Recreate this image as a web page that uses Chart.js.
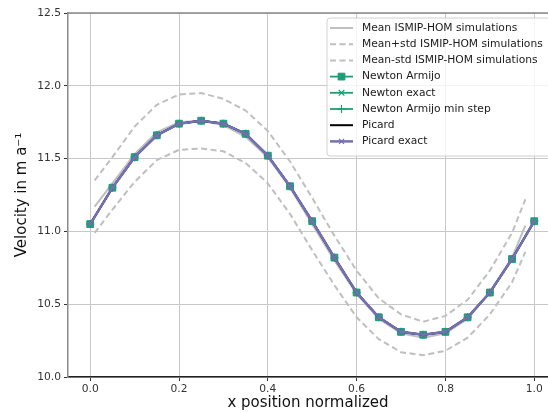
<!DOCTYPE html>
<html>
<head>
<meta charset="utf-8">
<script src="https://cdn.jsdelivr.net/npm/chart.js@4.4.1/dist/chart.umd.min.js"></script>
<style>
html,body{margin:0;padding:0;background:#fff;overflow:hidden;}
#wrap{width:548px;height:412px;overflow:hidden;}
canvas{display:block;}
</style>
</head>
<body>
<div id="wrap"><canvas id="c" width="548" height="412"></canvas></div>
<script>
// ---- data ----
const xNewton = [0.0,0.05,0.1,0.15,0.2,0.25,0.3,0.35,0.4,0.45,0.5,0.55,0.6,0.65,0.7,0.75,0.8,0.85,0.9,0.95,1.0];
const newtonArmijo = [11.05,11.30,11.51,11.66,11.74,11.76,11.74,11.67,11.52,11.31,11.07,10.82,10.58,10.41,10.31,10.29,10.31,10.41,10.58,10.81,11.07];
const newtonExact = [11.05,11.30,11.51,11.66,11.74,11.76,11.74,11.67,11.52,11.31,11.07,10.82,10.58,10.41,10.31,10.29,10.31,10.41,10.58,10.81,11.07];
const newtonMinStep = [11.05,11.30,11.51,11.66,11.74,11.76,11.74,11.67,11.52,11.31,11.07,10.82,10.58,10.41,10.31,10.29,10.31,10.41,10.58,10.81,11.07];
const picard = [11.05,11.30,11.51,11.66,11.74,11.76,11.74,11.67,11.52,11.31,11.07,10.82,10.58,10.41,10.31,10.29,10.31,10.41,10.58,10.81,11.07];
const picardExact = [11.05,11.30,11.51,11.66,11.74,11.76,11.74,11.67,11.52,11.31,11.07,10.82,10.58,10.41,10.31,10.29,10.31,10.41,10.58,10.81,11.07];

const xIsmip = [0.01,0.05,0.1,0.15,0.2,0.25,0.3,0.35,0.4,0.45,0.5,0.55,0.6,0.65,0.7,0.75,0.8,0.85,0.9,0.95,0.98];
const ismipMean = [11.17,11.33,11.53,11.68,11.75,11.76,11.73,11.65,11.51,11.30,11.05,10.80,10.57,10.40,10.30,10.27,10.30,10.40,10.58,10.82,11.04];
const ismipPlus = [11.35,11.51,11.72,11.87,11.94,11.95,11.91,11.83,11.69,11.48,11.23,10.97,10.73,10.54,10.43,10.38,10.42,10.53,10.73,10.99,11.22];
const ismipMinus = [10.99,11.15,11.34,11.49,11.56,11.57,11.55,11.47,11.33,11.12,10.87,10.63,10.41,10.26,10.17,10.15,10.18,10.27,10.43,10.65,10.86];

const xTicks = [0.0,0.2,0.4,0.6,0.8,1.0];
const yTicks = [10.0,10.5,11.0,11.5,12.0,12.5];

const seriesLabels = ['Mean ISMIP-HOM simulations','Mean+std ISMIP-HOM simulations','Mean-std ISMIP-HOM simulations','Newton Armijo','Newton exact','Newton Armijo min step','Picard','Picard exact'];

// ---- build ----
const pts = (xs, ys) => xs.map((x,i)=>({x:x,y:ys[i]}));
const GRAY = '#bfbfbf';
const TEAL = '#1b9e77';
const PURPLE = '#7570b3';

const datasets = [
  {label:seriesLabels[0], data:pts(xIsmip,ismipMean), borderColor:GRAY, borderWidth:2, pointRadius:0, order:7},
  {label:seriesLabels[1], data:pts(xIsmip,ismipPlus), borderColor:GRAY, borderWidth:2, borderDash:[6,3.5], pointRadius:0, order:6},
  {label:seriesLabels[2], data:pts(xIsmip,ismipMinus), borderColor:GRAY, borderWidth:2, borderDash:[6,3.5], pointRadius:0, order:5},
  {label:seriesLabels[3], data:pts(xNewton,newtonArmijo), borderColor:TEAL, backgroundColor:TEAL, borderWidth:1.8, pointStyle:'rect', pointRadius:4.8, pointBorderWidth:1, order:4},
  {label:seriesLabels[4], data:pts(xNewton,newtonExact), borderColor:TEAL, backgroundColor:TEAL, borderWidth:1.8, pointStyle:'crossRot', pointRadius:4, pointBorderWidth:1.2, order:3},
  {label:seriesLabels[5], data:pts(xNewton,newtonMinStep), borderColor:TEAL, backgroundColor:TEAL, borderWidth:1.8, pointStyle:'cross', pointRadius:4, pointBorderWidth:1.2, order:2},
  {label:seriesLabels[6], data:pts(xNewton,picard), borderColor:'#000000', borderWidth:2, pointRadius:0, order:1},
  {label:seriesLabels[7], data:pts(xNewton,picardExact), borderColor:PURPLE, backgroundColor:PURPLE, borderWidth:2.5, pointStyle:'crossRot', pointRadius:3.5, pointBorderWidth:1.2, order:0}
];
datasets.forEach(d=>{d.fill=false; d.tension=0; d.showLine=true; d.pointHoverRadius=d.pointRadius;});

const FONT = 'DejaVu Sans';

const legendPlugin = {
  id:'insideLegend',
  afterDraw(chart){
    const ctx = chart.ctx;
    const ca = chart.chartArea;
    ctx.save();
    // top spine
    ctx.strokeStyle = '#8a8a8a';
    ctx.lineWidth = 1.5;
    ctx.beginPath(); ctx.moveTo(ca.left, ca.top); ctx.lineTo(ca.right+2, ca.top); ctx.stroke();
    // legend box
    const bx = 327, by = 18, bw = 228, bh = 138, r = 3;
    ctx.beginPath();
    ctx.moveTo(bx+r,by); ctx.lineTo(bx+bw-r,by); ctx.arcTo(bx+bw,by,bx+bw,by+r,r);
    ctx.lineTo(bx+bw,by+bh-r); ctx.arcTo(bx+bw,by+bh,bx+bw-r,by+bh,r);
    ctx.lineTo(bx+r,by+bh); ctx.arcTo(bx,by+bh,bx,by+bh-r,r);
    ctx.lineTo(bx,by+r); ctx.arcTo(bx,by,bx+r,by,r); ctx.closePath();
    ctx.fillStyle = 'rgba(255,255,255,0.8)'; ctx.fill();
    ctx.strokeStyle = '#d0d0d0'; ctx.lineWidth = 1; ctx.stroke();
    ctx.font = '10.7px "' + FONT + '"';
    ctx.textBaseline = 'middle';
    ctx.textAlign = 'left';
    const rowY0 = 28, rowDy = 16.2;
    const hx0 = 330, hx1 = 353, tx = 362;
    chart.data.datasets.forEach((ds,i)=>{
      const y = rowY0 + i*rowDy;
      ctx.save();
      ctx.strokeStyle = ds.borderColor;
      ctx.lineWidth = ds.borderWidth;
      ctx.setLineDash(ds.borderDash || []);
      ctx.beginPath(); ctx.moveTo(hx0,y); ctx.lineTo(hx1,y); ctx.stroke();
      ctx.setLineDash([]);
      if (ds.pointRadius > 0) {
        ctx.fillStyle = ds.backgroundColor; ctx.strokeStyle = ds.borderColor; ctx.lineWidth = ds.pointBorderWidth;
        ctx.beginPath();
        const c = (hx0+hx1)/2;
        if (ds.pointStyle === 'rect') { const s = ds.pointRadius*Math.SQRT1_2; ctx.rect(c-s,y-s,2*s,2*s); ctx.fill(); ctx.stroke(); }
        else if (ds.pointStyle === 'crossRot') { const s = ds.pointRadius*Math.SQRT1_2; ctx.moveTo(c-s,y-s); ctx.lineTo(c+s,y+s); ctx.moveTo(c-s,y+s); ctx.lineTo(c+s,y-s); ctx.stroke(); }
        else if (ds.pointStyle === 'cross') { const s = ds.pointRadius; ctx.moveTo(c,y-s); ctx.lineTo(c,y+s); ctx.moveTo(c-s,y); ctx.lineTo(c+s,y); ctx.stroke(); }
      }
      ctx.restore();
      ctx.fillStyle = '#1a1a1a';
      ctx.fillText(ds.label, tx, y);
    });
    ctx.restore();
  }
};

new Chart(document.getElementById('c'), {
  type:'line',
  data:{datasets:datasets},
  plugins:[legendPlugin],
  options:{
    responsive:false,
    animation:false,
    layout:{autoPadding:false, padding:{top:13,right:0,bottom:0,left:0}},
    plugins:{legend:{display:false}, tooltip:{enabled:false}},
    scales:{
      x:{
        type:'linear', min:-0.05, max:1.031,
        afterBuildTicks(s){ s.ticks = xTicks.map(v=>({value:v})); },
        afterFit(s){ s.height = 35; s.paddingLeft = 0; s.paddingRight = 0; },
        ticks:{font:{family:FONT,size:10.7}, color:'#333', padding:2, callback:v=>Number(v).toFixed(1), maxRotation:0, autoSkip:false},
        grid:{color:'#c8c8c8', lineWidth:1, tickLength:4, tickColor:'#333', drawTicks:true},
        border:{color:'#222', width:1.5},
        title:{display:true, text:'x position normalized', font:{family:FONT,size:15}, color:'#111', padding:{top:0,bottom:0}}
      },
      y:{
        type:'linear', min:10.0, max:12.5,
        afterBuildTicks(s){ s.ticks = yTicks.map(v=>({value:v})); },
        afterFit(s){ s.width = 68; s.paddingTop = 0; s.paddingBottom = 0; },
        ticks:{font:{family:FONT,size:10.7}, color:'#333', padding:3, callback:v=>Number(v).toFixed(1), autoSkip:false},
        grid:{color:'#c8c8c8', lineWidth:1, tickLength:4, tickColor:'#333', drawTicks:true},
        border:{color:'#8a8a8a', width:1.5},
        title:{display:true, text:'Velocity in m a\u207B\u00B9', font:{family:FONT,size:15}, color:'#111', padding:{top:13,bottom:0}}
      }
    }
  }
});
</script>
</body>
</html>
